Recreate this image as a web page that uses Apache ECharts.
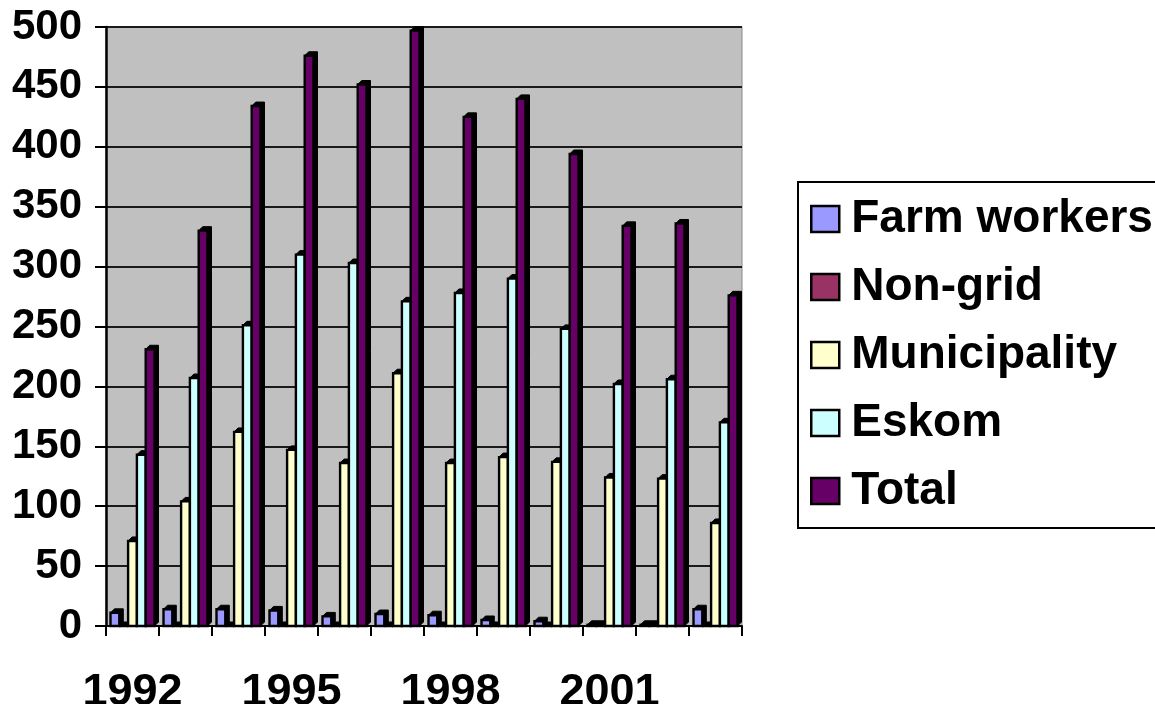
<!DOCTYPE html>
<html>
<head>
<meta charset="utf-8">
<script src="https://cdn.jsdelivr.net/npm/echarts@6/dist/echarts.min.js"></script>
<style>
  html, body { margin: 0; padding: 0; background: #fff; }
  #chart { width: 1155px; height: 704px; }
</style>
</head>
<body>
<div id="chart"></div>
<script>
// Household electrification connections per year (thousands)
const years = ['1992', '1993', '1994', '1995', '1996', '1997', '1998', '1999', '2000', '2001', '2002', '2003'];
const farmWorkers  = [11, 14, 14, 13, 8, 10, 9, 5, 4, 1, 1, 14];
const nonGrid      = [0, 0, 0, 0, 0, 0, 0, 0, 0, 1, 1, 0];
const municipality = [71, 104, 162, 147, 136, 211, 136, 141, 137, 124, 123, 86];
const eskom        = [143, 207, 251, 310, 303, 271, 278, 290, 248, 202, 206, 170];
const total        = [231, 330, 434, 476, 452, 497, 425, 440, 394, 334, 336, 276];

const seriesNames  = ['Farm workers', 'Non-grid', 'Municipality', 'Eskom', 'Total'];
const seriesData   = [farmWorkers, nonGrid, municipality, eskom, total];
const seriesColors = ['#9999FF', '#993366', '#FFFFCC', '#CCFFFF', '#660066'];

const font = 'Liberation Sans, Arial, sans-serif';
const BAR_W = 8.8;   // front face width of one column
const DEPTH = 4;     // extrusion of the column's top and side faces

// Column with a dark top and right face, drawn through the axis scales
function columnRenderer(seriesIndex, count) {
  return function (params, api) {
    const cat = api.value(0);
    const val = api.value(1);
    const top = api.coord([cat, val]);
    const base = api.coord([cat, 0]);
    const left = top[0] - (count * BAR_W) / 2 + seriesIndex * BAR_W;
    const right = left + BAR_W;
    const yTop = top[1];
    const yBase = base[1];
    const d = DEPTH;
    return {
      type: 'group',
      children: [
        {
          type: 'polygon',
          shape: { points: [[left, yTop], [left + d, yTop - d], [right + d, yTop - d], [right + d, yBase - d], [right, yBase], [right, yTop]] },
          style: { fill: '#000', stroke: '#000', lineWidth: 1 }
        },
        {
          type: 'rect',
          shape: { x: left, y: yTop, width: BAR_W, height: Math.max(yBase - yTop, 0) },
          style: { fill: api.visual('color'), stroke: '#000', lineWidth: 2.4 }
        }
      ]
    };
  };
}

const chart = echarts.init(document.getElementById('chart'), null, { renderer: 'canvas' });

chart.setOption({
  animation: false,
  backgroundColor: '#ffffff',
  grid: {
    left: 106, top: 27, width: 636, height: 599,
    outerBoundsMode: 'none',
    containLabel: false,
    show: true,
    backgroundColor: '#c0c0c0',
    borderColor: '#8a8a8a',
    borderWidth: 1
  },
  legend: {
    orient: 'vertical',
    left: 798, top: 182,
    padding: [14, 60, 14, 12],
    itemGap: 22,
    itemWidth: 28,
    itemHeight: 26,
    icon: 'rect',
    selectedMode: false,
    borderColor: '#000',
    borderWidth: 2,
    itemStyle: { borderColor: '#000', borderWidth: 2.5 },
    textStyle: {
      fontFamily: font, fontSize: 46, fontWeight: 'bold', color: '#000',
      lineHeight: 46, padding: [0, 0, 0, 7]
    },
    data: seriesNames
  },
  xAxis: {
    type: 'category',
    data: years,
    axisLine: { lineStyle: { color: '#000', width: 2 } },
    axisTick: { show: true, interval: 0, length: 10, lineStyle: { color: '#000', width: 2 } },
    axisLabel: {
      interval: 2, margin: 44,
      fontFamily: font, fontSize: 45, fontWeight: 'bold', color: '#000'
    },
    splitLine: { show: false }
  },
  yAxis: {
    type: 'value',
    min: 0, max: 500, interval: 50,
    axisLine: { show: true, lineStyle: { color: '#000', width: 2.5 } },
    axisTick: { show: true, length: 11, lineStyle: { color: '#000', width: 2 } },
    axisLabel: {
      margin: 24, padding: [12, 0, 0, 0],
      fontFamily: font, fontSize: 42, fontWeight: 'bold', color: '#000'
    },
    splitLine: { show: true, lineStyle: { color: '#1a1a1a', width: 2 } }
  },
  series: seriesNames.map((name, i) => ({
    name: name,
    type: 'custom',
    renderItem: columnRenderer(i, seriesNames.length),
    itemStyle: { color: seriesColors[i] },
    encode: { x: 0, y: 1 },
    data: seriesData[i].map((v, k) => [k, v]),
    z: 2 + i
  }))
});
</script>
</body>
</html>
